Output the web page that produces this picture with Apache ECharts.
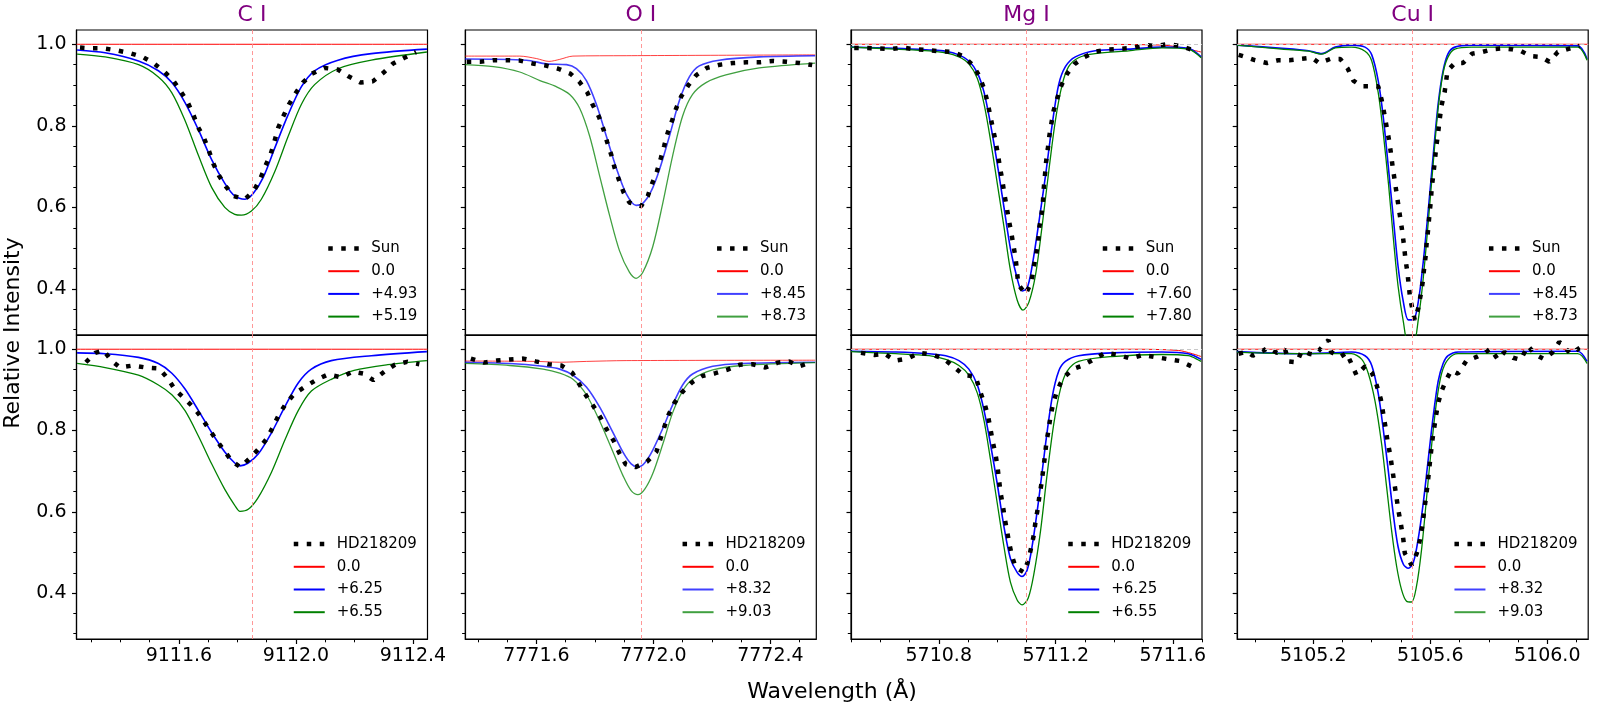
<!DOCTYPE html>
<html>
<head>
<meta charset="utf-8">
<script src="https://cdn.jsdelivr.net/npm/echarts@6/dist/echarts.min.js"></script>
<style>
html, body { margin: 0; padding: 0; background: #fff; }
#chart { width: 1600px; height: 709px; }
</style>
</head>
<body>
<div id="chart"></div>
<script>
// ---- panel titles, legend labels ----
var panelTitles = ['C I', 'O I', 'Mg I', 'Cu I'];
var obsNames = ['Sun', 'HD218209'];
var topAbund = [['0.0', '+4.93', '+5.19'], ['0.0', '+8.45', '+8.73'], ['0.0', '+7.60', '+7.80'], ['0.0', '+8.45', '+8.73']];
var botAbund = [['0.0', '+6.25', '+6.55'], ['0.0', '+8.32', '+9.03'], ['0.0', '+6.25', '+6.55'], ['0.0', '+8.32', '+9.03']];

// ---- axes ----
var xRanges = [[9111.25, 9112.45], [7771.357, 7772.557], [5710.5, 5711.7], [5104.94, 5106.14]];
var xMajor = [[9111.6, 9112.0, 9112.4], [7771.6, 7772.0, 7772.4], [5710.8, 5711.2, 5711.6], [5105.2, 5105.6, 5106.0]];
var xMinor = [
  [9111.3, 9111.4, 9111.5, 9111.7, 9111.8, 9111.9, 9112.1, 9112.2, 9112.3],
  [7771.4, 7771.5, 7771.7, 7771.8, 7771.9, 7772.1, 7772.2, 7772.3, 7772.5],
  [5710.5, 5710.6, 5710.7, 5710.9, 5711.0, 5711.1, 5711.3, 5711.4, 5711.5, 5711.7],
  [5105.0, 5105.1, 5105.3, 5105.4, 5105.5, 5105.7, 5105.8, 5105.9, 5106.1]
];
var yRange = [0.287, 1.035];
var yMajor = [0.4, 0.6, 0.8, 1.0];
var yMinor = [0.3, 0.35, 0.45, 0.5, 0.55, 0.65, 0.7, 0.75, 0.85, 0.9, 0.95];
var lineCenters = [9111.852, 7771.961, 5711.098, 5105.539];

// ---- C I ----
var ciSunObs = [[9111.262,0.992],[9111.297,0.990],[9111.343,0.990],[9111.388,0.985],[9111.434,0.978],[9111.476,0.969],[9111.513,0.954],[9111.551,0.932],[9111.581,0.911],[9111.604,0.887],[9111.630,0.858],[9111.649,0.828],[9111.664,0.799],[9111.686,0.770],[9111.703,0.738],[9111.718,0.707],[9111.737,0.678],[9111.761,0.651],[9111.786,0.628],[9111.826,0.620],[9111.857,0.641],[9111.880,0.673],[9111.896,0.702],[9111.914,0.731],[9111.926,0.760],[9111.939,0.794],[9111.956,0.822],[9111.976,0.852],[9111.999,0.880],[9112.024,0.906],[9112.055,0.928],[9112.098,0.942],[9112.144,0.938],[9112.178,0.922],[9112.221,0.906],[9112.263,0.909],[9112.299,0.930],[9112.331,0.952],[9112.371,0.967],[9112.411,0.981]];
var ciSunRed = [[9111.25,1.0],[9112.45,1.0]];
var ciSunBlue = [[9111.252,0.986],[9111.348,0.979],[9111.462,0.959],[9111.530,0.935],[9111.576,0.906],[9111.621,0.857],[9111.667,0.790],[9111.712,0.717],[9111.757,0.659],[9111.791,0.628],[9111.826,0.620],[9111.854,0.634],[9111.888,0.673],[9111.928,0.746],[9111.974,0.828],[9112.019,0.896],[9112.064,0.935],[9112.144,0.961],[9112.258,0.977],[9112.448,0.988]];
var ciSunGreen = [[9111.252,0.976],[9111.348,0.969],[9111.462,0.950],[9111.530,0.920],[9111.576,0.881],[9111.621,0.813],[9111.667,0.727],[9111.712,0.649],[9111.757,0.600],[9111.791,0.583],[9111.814,0.581],[9111.848,0.591],[9111.882,0.620],[9111.928,0.688],[9111.974,0.775],[9112.019,0.853],[9112.064,0.901],[9112.144,0.940],[9112.258,0.961],[9112.448,0.981]];
var ciHdObs = [[9111.282,0.968],[9111.314,0.991],[9111.343,0.997],[9111.369,0.972],[9111.399,0.955],[9111.443,0.960],[9111.487,0.955],[9111.532,0.953],[9111.562,0.928],[9111.587,0.900],[9111.619,0.879],[9111.651,0.856],[9111.678,0.831],[9111.703,0.803],[9111.729,0.776],[9111.755,0.750],[9111.782,0.724],[9111.810,0.710],[9111.843,0.732],[9111.873,0.755],[9111.901,0.780],[9111.922,0.809],[9111.942,0.839],[9111.965,0.865],[9111.994,0.890],[9112.032,0.908],[9112.071,0.925],[9112.110,0.938],[9112.155,0.931],[9112.195,0.945],[9112.231,0.940],[9112.265,0.924],[9112.303,0.945],[9112.339,0.962],[9112.380,0.969],[9112.422,0.963]];
var ciHdRed = [[9111.25,1.0],[9112.45,1.0]];
var ciHdBlue = [[9111.252,0.991],[9111.348,0.989],[9111.462,0.980],[9111.530,0.965],[9111.576,0.941],[9111.621,0.902],[9111.667,0.849],[9111.712,0.795],[9111.757,0.747],[9111.791,0.720],[9111.809,0.713],[9111.837,0.720],[9111.871,0.742],[9111.917,0.795],[9111.962,0.858],[9112.008,0.917],[9112.053,0.951],[9112.121,0.972],[9112.258,0.984],[9112.448,0.994]];
var ciHdGreen = [[9111.252,0.965],[9111.348,0.955],[9111.462,0.936],[9111.530,0.912],[9111.576,0.888],[9111.621,0.849],[9111.667,0.786],[9111.712,0.718],[9111.757,0.655],[9111.791,0.616],[9111.809,0.601],[9111.837,0.606],[9111.871,0.635],[9111.917,0.698],[9111.962,0.776],[9112.008,0.849],[9112.053,0.897],[9112.121,0.926],[9112.199,0.948],[9112.314,0.962],[9112.448,0.972]];

// ---- O I ----
var oiSunObs = [[7771.362,0.957],[7771.407,0.957],[7771.453,0.961],[7771.498,0.961],[7771.543,0.960],[7771.587,0.953],[7771.632,0.948],[7771.675,0.940],[7771.716,0.928],[7771.746,0.909],[7771.774,0.882],[7771.793,0.851],[7771.814,0.822],[7771.830,0.790],[7771.842,0.760],[7771.856,0.729],[7771.867,0.698],[7771.882,0.668],[7771.898,0.637],[7771.918,0.612],[7771.958,0.603],[7771.981,0.628],[7771.996,0.659],[7772.012,0.688],[7772.026,0.722],[7772.037,0.751],[7772.049,0.783],[7772.064,0.813],[7772.078,0.843],[7772.095,0.872],[7772.119,0.899],[7772.146,0.924],[7772.183,0.942],[7772.228,0.950],[7772.273,0.954],[7772.318,0.956],[7772.365,0.956],[7772.409,0.959],[7772.455,0.957],[7772.500,0.954],[7772.543,0.949]];
var oiSunRed = [[7771.356,0.971],[7771.543,0.971],[7771.600,0.965],[7771.643,0.958],[7771.680,0.963],[7771.725,0.971],[7771.907,0.972],[7772.553,0.974]];
var oiSunBlue = [[7771.356,0.964],[7771.566,0.961],[7771.634,0.952],[7771.703,0.950],[7771.737,0.940],[7771.771,0.911],[7771.805,0.853],[7771.839,0.775],[7771.873,0.697],[7771.907,0.634],[7771.941,0.605],[7771.964,0.610],[7771.992,0.639],[7772.021,0.693],[7772.055,0.775],[7772.089,0.862],[7772.123,0.920],[7772.157,0.947],[7772.225,0.961],[7772.362,0.969],[7772.553,0.972]];
var oiSunGreen = [[7771.356,0.950],[7771.453,0.945],[7771.543,0.932],[7771.612,0.911],[7771.668,0.896],[7771.714,0.877],[7771.748,0.843],[7771.782,0.775],[7771.816,0.678],[7771.850,0.581],[7771.884,0.494],[7771.918,0.441],[7771.941,0.426],[7771.964,0.441],[7771.998,0.504],[7772.032,0.610],[7772.066,0.727],[7772.100,0.824],[7772.134,0.877],[7772.180,0.906],[7772.248,0.925],[7772.362,0.942],[7772.553,0.954]];
var oiHdObs = [[7771.376,0.977],[7771.421,0.967],[7771.464,0.972],[7771.509,0.975],[7771.555,0.977],[7771.598,0.970],[7771.642,0.963],[7771.685,0.960],[7771.723,0.942],[7771.771,0.885],[7771.796,0.859],[7771.820,0.831],[7771.841,0.802],[7771.864,0.775],[7771.884,0.744],[7771.905,0.717],[7771.939,0.710],[7771.978,0.723],[7772.010,0.747],[7772.024,0.779],[7772.038,0.810],[7772.052,0.839],[7772.072,0.868],[7772.098,0.894],[7772.131,0.918],[7772.167,0.934],[7772.212,0.941],[7772.254,0.950],[7772.296,0.962],[7772.339,0.963],[7772.383,0.955],[7772.425,0.967],[7772.464,0.970],[7772.498,0.958],[7772.541,0.968]];
var oiHdRed = [[7771.356,0.971],[7771.600,0.970],[7771.680,0.968],[7771.771,0.970],[7771.907,0.972],[7772.553,0.973]];
var oiHdBlue = [[7771.356,0.968],[7771.509,0.965],[7771.623,0.958],[7771.680,0.951],[7771.725,0.936],[7771.771,0.907],[7771.816,0.858],[7771.862,0.795],[7771.896,0.747],[7771.924,0.718],[7771.947,0.710],[7771.970,0.720],[7771.998,0.752],[7772.032,0.805],[7772.066,0.863],[7772.100,0.912],[7772.134,0.939],[7772.203,0.958],[7772.305,0.965],[7772.553,0.968]];
var oiHdGreen = [[7771.356,0.965],[7771.509,0.960],[7771.623,0.951],[7771.680,0.941],[7771.725,0.926],[7771.771,0.888],[7771.816,0.824],[7771.862,0.747],[7771.896,0.689],[7771.924,0.652],[7771.947,0.642],[7771.970,0.655],[7771.998,0.694],[7772.032,0.766],[7772.066,0.844],[7772.100,0.897],[7772.134,0.926],[7772.203,0.949],[7772.305,0.960],[7772.553,0.967]];

// ---- Mg I ----
var mgSunObs = [[5710.511,0.991],[5710.551,0.991],[5710.591,0.990],[5710.636,0.988],[5710.676,0.992],[5710.716,0.988],[5710.756,0.986],[5710.801,0.983],[5710.847,0.981],[5710.883,0.971],[5710.915,0.950],[5710.938,0.923],[5710.955,0.891],[5710.967,0.857],[5710.976,0.825],[5710.985,0.794],[5710.994,0.763],[5711.002,0.731],[5711.009,0.699],[5711.017,0.668],[5711.024,0.634],[5711.032,0.602],[5711.039,0.571],[5711.048,0.538],[5711.055,0.508],[5711.063,0.474],[5711.072,0.411],[5711.097,0.387],[5711.117,0.417],[5711.125,0.455],[5711.133,0.484],[5711.140,0.518],[5711.144,0.552],[5711.151,0.581],[5711.156,0.612],[5711.159,0.647],[5711.163,0.678],[5711.167,0.712],[5711.173,0.744],[5711.178,0.775],[5711.185,0.806],[5711.193,0.838],[5711.205,0.867],[5711.219,0.899],[5711.239,0.928],[5711.265,0.952],[5711.299,0.969],[5711.338,0.982],[5711.381,0.987],[5711.424,0.989],[5711.463,0.991],[5711.503,0.998],[5711.542,0.996],[5711.582,1.000],[5711.625,0.996],[5711.668,0.986]];
var mgSunRed = [[5710.5,1.0],[5711.278,1.0],[5711.563,0.998],[5711.619,0.993],[5711.697,0.981]];
var mgSunBlue = [[5710.500,0.993],[5710.653,0.990],[5710.767,0.986],[5710.824,0.983],[5710.869,0.974],[5710.903,0.959],[5710.932,0.930],[5710.955,0.882],[5710.977,0.804],[5711.000,0.707],[5711.023,0.600],[5711.045,0.499],[5711.068,0.426],[5711.085,0.395],[5711.102,0.402],[5711.119,0.455],[5711.142,0.562],[5711.165,0.678],[5711.188,0.804],[5711.210,0.901],[5711.233,0.945],[5711.267,0.969],[5711.335,0.984],[5711.449,0.988],[5711.563,0.993],[5711.653,0.990],[5711.697,0.969]];
var mgSunGreen = [[5710.500,0.993],[5710.653,0.988],[5710.767,0.984],[5710.824,0.979],[5710.869,0.969],[5710.903,0.952],[5710.932,0.916],[5710.955,0.853],[5710.977,0.765],[5711.000,0.659],[5711.023,0.552],[5711.045,0.446],[5711.068,0.373],[5711.088,0.348],[5711.108,0.367],[5711.131,0.435],[5711.153,0.552],[5711.176,0.688],[5711.199,0.814],[5711.222,0.901],[5711.244,0.945],[5711.278,0.967],[5711.335,0.977],[5711.449,0.984],[5711.563,0.991],[5711.653,0.988],[5711.697,0.967]];
var mgHdObs = [[5710.534,0.991],[5710.580,0.986],[5710.614,0.989],[5710.651,0.972],[5710.693,0.977],[5710.733,0.991],[5710.776,0.987],[5710.816,0.977],[5710.849,0.958],[5710.886,0.936],[5710.926,0.933],[5710.941,0.897],[5710.958,0.863],[5710.969,0.834],[5710.977,0.803],[5710.985,0.771],[5710.994,0.742],[5711.001,0.710],[5711.006,0.679],[5711.011,0.648],[5711.019,0.616],[5711.026,0.582],[5711.034,0.550],[5711.042,0.519],[5711.051,0.490],[5711.063,0.463],[5711.091,0.451],[5711.106,0.480],[5711.116,0.512],[5711.125,0.543],[5711.131,0.577],[5711.138,0.606],[5711.144,0.638],[5711.151,0.669],[5711.157,0.703],[5711.163,0.737],[5711.168,0.771],[5711.175,0.800],[5711.182,0.834],[5711.190,0.863],[5711.201,0.890],[5711.216,0.916],[5711.231,0.933],[5711.261,0.952],[5711.292,0.960],[5711.330,0.975],[5711.369,0.991],[5711.409,0.987],[5711.455,0.977],[5711.497,0.986],[5711.538,0.981],[5711.580,0.976],[5711.625,0.971],[5711.667,0.957]];
var mgHdRed = [[5710.5,1.0],[5711.449,1.0],[5711.619,0.997],[5711.697,0.982]];
var mgHdBlue = [[5710.500,0.995],[5710.653,0.993],[5710.767,0.989],[5710.824,0.984],[5710.869,0.972],[5710.903,0.951],[5710.932,0.912],[5710.955,0.849],[5710.977,0.766],[5711.000,0.669],[5711.023,0.563],[5711.045,0.485],[5711.068,0.451],[5711.085,0.441],[5711.102,0.456],[5711.119,0.514],[5711.142,0.631],[5711.165,0.766],[5711.188,0.883],[5711.210,0.946],[5711.233,0.970],[5711.278,0.984],[5711.392,0.991],[5711.563,0.993],[5711.653,0.989],[5711.697,0.975]];
var mgHdGreen = [[5710.500,0.994],[5710.653,0.989],[5710.767,0.984],[5710.824,0.975],[5710.869,0.960],[5710.903,0.936],[5710.932,0.892],[5710.955,0.824],[5710.977,0.728],[5711.000,0.621],[5711.023,0.514],[5711.045,0.427],[5711.068,0.383],[5711.085,0.371],[5711.106,0.388],[5711.125,0.446],[5711.148,0.553],[5711.170,0.689],[5711.193,0.815],[5711.216,0.902],[5711.239,0.946],[5711.278,0.970],[5711.392,0.982],[5711.563,0.987],[5711.653,0.984],[5711.697,0.970]];

// ---- Cu I ----
var cuSunObs = [[5104.945,0.974],[5104.968,0.969],[5105.000,0.961],[5105.042,0.954],[5105.081,0.961],[5105.118,0.961],[5105.155,0.964],[5105.195,0.967],[5105.220,0.954],[5105.258,0.964],[5105.292,0.964],[5105.318,0.940],[5105.337,0.911],[5105.365,0.897],[5105.400,0.897],[5105.422,0.897],[5105.434,0.863],[5105.443,0.829],[5105.451,0.797],[5105.459,0.765],[5105.465,0.736],[5105.471,0.702],[5105.477,0.673],[5105.484,0.639],[5105.491,0.605],[5105.497,0.576],[5105.504,0.543],[5105.510,0.508],[5105.515,0.474],[5105.522,0.440],[5105.531,0.378],[5105.547,0.324],[5105.559,0.353],[5105.568,0.388],[5105.574,0.416],[5105.579,0.450],[5105.584,0.479],[5105.588,0.515],[5105.593,0.547],[5105.597,0.581],[5105.602,0.615],[5105.605,0.649],[5105.611,0.683],[5105.616,0.717],[5105.621,0.751],[5105.627,0.783],[5105.632,0.814],[5105.638,0.848],[5105.649,0.882],[5105.659,0.935],[5105.684,0.954],[5105.712,0.954],[5105.743,0.977],[5105.777,0.981],[5105.814,0.988],[5105.848,0.990],[5105.877,0.988],[5105.911,0.983],[5105.943,0.971],[5105.979,0.969],[5106.007,0.957],[5106.036,0.981],[5106.070,0.988],[5106.110,0.996]];
var cuSunRed = [[5104.94,1.0],[5106.14,1.0]];
var cuSunBlue = [[5104.939,0.998],[5105.093,0.990],[5105.184,0.984],[5105.229,0.977],[5105.275,0.993],[5105.331,0.998],[5105.377,0.993],[5105.400,0.974],[5105.422,0.911],[5105.439,0.824],[5105.457,0.697],[5105.474,0.572],[5105.490,0.455],[5105.508,0.368],[5105.525,0.324],[5105.542,0.324],[5105.559,0.368],[5105.576,0.466],[5105.593,0.591],[5105.610,0.727],[5105.627,0.853],[5105.644,0.935],[5105.661,0.977],[5105.684,0.993],[5105.741,0.998],[5106.104,0.996],[5106.136,0.964]];
var cuSunGreen = [[5104.939,0.998],[5105.093,0.988],[5105.184,0.983],[5105.229,0.976],[5105.275,0.991],[5105.331,0.993],[5105.377,0.983],[5105.400,0.959],[5105.422,0.882],[5105.439,0.785],[5105.457,0.659],[5105.474,0.523],[5105.490,0.407],[5105.508,0.320],[5105.525,0.264],[5105.542,0.264],[5105.559,0.324],[5105.576,0.426],[5105.593,0.562],[5105.610,0.707],[5105.627,0.843],[5105.644,0.930],[5105.661,0.969],[5105.684,0.988],[5105.741,0.993],[5106.104,0.993],[5106.136,0.961]];
var cuHdObs = [[5104.945,0.989],[5104.973,0.994],[5104.993,0.984],[5105.015,0.991],[5105.047,1.004],[5105.076,0.991],[5105.104,0.999],[5105.116,0.970],[5105.144,0.968],[5105.161,0.996],[5105.186,0.989],[5105.206,0.986],[5105.252,1.023],[5105.261,0.993],[5105.292,0.981],[5105.314,0.991],[5105.348,0.936],[5105.377,0.958],[5105.400,0.943],[5105.417,0.911],[5105.431,0.877],[5105.439,0.843],[5105.447,0.808],[5105.454,0.774],[5105.463,0.740],[5105.470,0.706],[5105.477,0.672],[5105.484,0.638],[5105.491,0.604],[5105.500,0.568],[5105.508,0.532],[5105.513,0.498],[5105.536,0.469],[5105.554,0.498],[5105.565,0.532],[5105.573,0.566],[5105.579,0.600],[5105.585,0.634],[5105.591,0.668],[5105.596,0.702],[5105.601,0.736],[5105.606,0.770],[5105.613,0.804],[5105.620,0.838],[5105.627,0.867],[5105.638,0.896],[5105.655,0.925],[5105.672,0.948],[5105.695,0.940],[5105.723,0.971],[5105.758,0.981],[5105.786,0.991],[5105.806,1.001],[5105.831,0.975],[5105.854,0.993],[5105.883,0.979],[5105.909,0.974],[5105.934,1.008],[5105.959,0.987],[5105.988,0.976],[5106.016,0.991],[5106.041,1.018],[5106.081,0.988],[5106.124,1.010]];
var cuHdRed = [[5104.94,1.0],[5106.14,1.0]];
var cuHdBlue = [[5104.939,0.994],[5105.150,0.989],[5105.263,0.991],[5105.331,0.993],[5105.377,0.984],[5105.400,0.960],[5105.422,0.892],[5105.439,0.805],[5105.457,0.698],[5105.474,0.592],[5105.490,0.514],[5105.508,0.471],[5105.525,0.461],[5105.542,0.475],[5105.559,0.534],[5105.576,0.621],[5105.593,0.728],[5105.610,0.834],[5105.627,0.921],[5105.644,0.965],[5105.661,0.984],[5105.695,0.993],[5106.104,0.995],[5106.136,0.970]];
var cuHdGreen = [[5104.939,0.993],[5105.150,0.989],[5105.263,0.989],[5105.331,0.989],[5105.366,0.975],[5105.388,0.941],[5105.411,0.873],[5105.434,0.766],[5105.451,0.660],[5105.468,0.553],[5105.485,0.466],[5105.502,0.408],[5105.519,0.380],[5105.536,0.378],[5105.553,0.417],[5105.570,0.505],[5105.587,0.631],[5105.605,0.766],[5105.622,0.873],[5105.639,0.941],[5105.661,0.975],[5105.695,0.989],[5106.104,0.989],[5106.136,0.965]];

// panels in order: top row C, O, Mg, Cu then bottom row
var panelSeries = [
  [ciSunObs, ciSunRed, ciSunBlue, ciSunGreen],
  [oiSunObs, oiSunRed, oiSunBlue, oiSunGreen],
  [mgSunObs, mgSunRed, mgSunBlue, mgSunGreen],
  [cuSunObs, cuSunRed, cuSunBlue, cuSunGreen],
  [ciHdObs, ciHdRed, ciHdBlue, ciHdGreen],
  [oiHdObs, oiHdRed, oiHdBlue, oiHdGreen],
  [mgHdObs, mgHdRed, mgHdBlue, mgHdGreen],
  [cuHdObs, cuHdRed, cuHdBlue, cuHdGreen]
];

var FONT = 'DejaVu Sans';
var colLefts = [76.5, 465.3, 851, 1237.2];
var colWidth = 351;
var rowTops = [30, 335];
var rowHeights = [305, 304];

var obsStyle = { color: '#000', width: 4.5, type: [4.5, 8.5], cap: 'butt' };

var grids = [], xAxes = [], yAxes = [], series = [], legends = [], graphics = [];

function fmt(v) { return v.toFixed(1); }

for (var p = 0; p < 8; p++) {
  var col = p % 4, row = Math.floor(p / 4);
  grids.push({
    left: colLefts[col], top: rowTops[row], width: colWidth, height: rowHeights[row],
    show: true, borderColor: '#000', borderWidth: 1.2, containLabel: false
  });
  // major x axis
  xAxes.push({
    gridIndex: p, type: 'value', min: xRanges[col][0], max: xRanges[col][1], position: 'bottom',
    axisLine: { show: true, onZero: false, lineStyle: { color: '#000', width: 1.2 } },
    axisTick: { show: row === 1, inside: false, length: 5, customValues: xMajor[col], lineStyle: { color: '#000', width: 1.2 } },
    axisLabel: { show: row === 1, customValues: xMajor[col], formatter: fmt, color: '#000', fontSize: 19, fontFamily: FONT, margin: 8 },
    splitLine: { show: false }
  });
  // minor x ticks
  xAxes.push({
    gridIndex: p, type: 'value', min: xRanges[col][0], max: xRanges[col][1], position: 'bottom', offset: 0,
    axisLine: { show: false },
    axisTick: { show: row === 1, inside: false, length: 3.3, customValues: xMinor[col], lineStyle: { color: '#000', width: 1 } },
    axisLabel: { show: false },
    splitLine: { show: false }
  });
  yAxes.push({
    gridIndex: p, type: 'value', min: yRange[0], max: yRange[1], position: 'left',
    axisLine: { show: true, onZero: false, lineStyle: { color: '#000', width: 1.2 } },
    axisTick: { show: true, inside: false, length: 4.5, customValues: yMajor, lineStyle: { color: '#000', width: 1.2 } },
    axisLabel: { show: col === 0, customValues: yMajor, formatter: fmt, color: '#000', fontSize: 19, fontFamily: FONT, margin: 10 },
    splitLine: { show: false }
  });
  yAxes.push({
    gridIndex: p, type: 'value', min: yRange[0], max: yRange[1], position: 'left', offset: 0,
    axisLine: { show: false },
    axisTick: { show: true, inside: false, length: 3.2, customValues: yMinor, lineStyle: { color: '#000', width: 1 } },
    axisLabel: { show: false },
    splitLine: { show: false }
  });

  var names = [obsNames[row]].concat(row === 0 ? topAbund[col] : botAbund[col]);
  var d = panelSeries[p];
  var fade = col === 1 ? 0.75 : 1;

  var markData = [{ xAxis: lineCenters[col], lineStyle: { color: '#ff8c8c', type: [4, 3], width: 0.9 } }];
  if (col >= 2) markData.push({ yAxis: 1.0, lineStyle: { color: '#c8c8c8', type: [4, 3], width: 1 } });

  series.push({
    name: names[1], type: 'line', xAxisIndex: 2 * p, yAxisIndex: 2 * p, data: d[1],
    symbol: 'none', smooth: 0.3, lineStyle: { color: '#ff0000', width: 1, opacity: fade }, itemStyle: { color: '#ff0000' },
    z: 2,
    markLine: { silent: true, symbol: 'none', label: { show: false }, data: markData, animation: false }
  });
  series.push({
    name: names[2], type: 'line', xAxisIndex: 2 * p, yAxisIndex: 2 * p, data: d[2],
    symbol: 'none', smooth: 0.3, lineStyle: { color: '#0000ff', width: 1.6, opacity: fade }, itemStyle: { color: '#0000ff' }, z: 3
  });
  series.push({
    name: names[3], type: 'line', xAxisIndex: 2 * p, yAxisIndex: 2 * p, data: d[3],
    symbol: 'none', smooth: 0.3, lineStyle: { color: '#008000', width: 1.3, opacity: fade }, itemStyle: { color: '#008000' }, z: 3
  });
  series.push({
    name: names[0], type: 'line', xAxisIndex: 2 * p, yAxisIndex: 2 * p, data: d[0],
    symbol: 'none', smooth: false,
    lineStyle: obsStyle, itemStyle: { color: '#000' }, z: 4
  });

  var right = colLefts[col] + colWidth;
  var legendData = [{ name: names[0], lineStyle: obsStyle }, names[1], names[2], names[3]];
  legends.push({
    data: legendData, orient: 'vertical', selectedMode: false,
    left: right - (row === 0 ? 101.5 : 136), top: row === 0 ? 241 : 536.6,
    itemWidth: 31, itemHeight: 14, itemGap: 7.7, padding: 0,
    itemStyle: { opacity: 0 },
    textStyle: { color: '#000', fontSize: 15, fontFamily: FONT, lineHeight: 14, padding: [0, 0, 0, 7] }
  });

  if (row === 0) {
    graphics.push({
      type: 'text', x: colLefts[col] + colWidth / 2, y: 15.5,
      style: { text: panelTitles[col], fill: '#800080', fontSize: 22, fontFamily: FONT, align: 'center', verticalAlign: 'middle' }
    });
  }
}

graphics.push({
  type: 'text', x: 832, y: 692,
  style: { text: 'Wavelength (Å)', fill: '#000', fontSize: 22, fontFamily: FONT, align: 'center', verticalAlign: 'middle' }
});
graphics.push({
  type: 'text', x: 13, y: 333, rotation: Math.PI / 2,
  style: { text: 'Relative Intensity', fill: '#000', fontSize: 22, fontFamily: FONT, align: 'center', verticalAlign: 'middle' }
});

var chart = echarts.init(document.getElementById('chart'));
chart.setOption({
  animation: false,
  backgroundColor: '#fff',
  grid: grids,
  xAxis: xAxes,
  yAxis: yAxes,
  legend: legends,
  series: series,
  graphic: graphics
});
</script>
</body>
</html>
